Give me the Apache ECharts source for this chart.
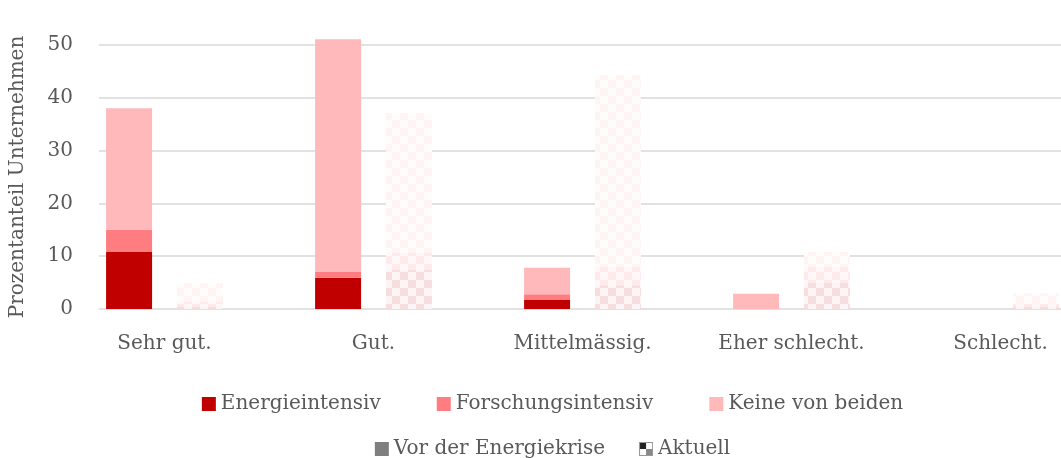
<!DOCTYPE html>
<html>
<head>
    <meta charset="utf-8">
    <title>Unternehmen</title>
    <script src="https://cdn.jsdelivr.net/npm/echarts@6/dist/echarts.min.js"></script>
</head>
<style>
    *{ margin: 0; padding: 0; }
    body{ width: 1061px; height: 458px; overflow: hidden; }
    /* Grafik ist im Original rechts abgeschnitten */
    #chart{ width: 1105px; height: 458px; }
</style>
<body>
<div id="chart"></div>
<script>
    // Daten
    let categories = ['Sehr gut.', 'Gut.', 'Mittelmässig.', 'Eher schlecht.', 'Schlecht.'];
    let vorEnergie = [10.8, 5.9, 1.7, 0, 0];
    let vorForschung = [4.2, 1.1, 1.1, 0, 0];
    let vorKeine = [23.0, 44.1, 5.0, 2.9, 0];
    let aktEnergie = [0.5, 7.4, 4.5, 5.0, 0.5];
    let aktForschung = [0.9, 3.2, 3.5, 3.0, 0.5];
    let aktKeine = [3.5, 26.5, 36.3, 2.8, 2.0];
    let yTicks = [0, 10, 20, 30, 40, 50];

    let font = 'DejaVu Serif';
    let grey = '#595959';
    let cRed = '#C00000', cPink = '#FF7C80', cLight = '#FFB9BB';

    // Schachbrett-Muster fuer "Aktuell"
    function checker(rgb, a1, a2, cell) {
        let c = document.createElement('canvas');
        c.width = cell * 2; c.height = cell * 2;
        let ctx = c.getContext('2d');
        ctx.fillStyle = '#fff';
        ctx.fillRect(0, 0, c.width, c.height);
        ctx.fillStyle = 'rgba(' + rgb + ',' + a1 + ')';
        ctx.fillRect(0, 0, cell, cell);
        ctx.fillRect(cell, cell, cell, cell);
        ctx.fillStyle = 'rgba(' + rgb + ',' + a2 + ')';
        ctx.fillRect(cell, 0, cell, cell);
        ctx.fillRect(0, cell, cell, cell);
        return {image: c, repeat: 'repeat'};
    }
    let patEnergie = checker('192,0,0', 0.13, 0.04, 8);
    let patForschung = checker('255,124,128', 0.16, 0.05, 8);
    let patKeine = checker('255,185,187', 0.16, 0.04, 8);

    let ic = document.createElement('canvas');
    ic.width = 14; ic.height = 14;
    let ictx = ic.getContext('2d');
    ictx.fillStyle = '#fff'; ictx.fillRect(0, 0, 14, 14);
    ictx.fillStyle = '#222'; ictx.fillRect(1, 1, 6, 6);
    ictx.fillStyle = '#888'; ictx.fillRect(7, 7, 6, 6);
    ictx.strokeStyle = '#999'; ictx.lineWidth = 1; ictx.strokeRect(0.5, 0.5, 13, 13);
    let aktIcon = 'image://' + ic.toDataURL();

    function bar(name, data, stack, color) {
        return {
            name: name,
            type: 'bar',
            stack: stack,
            data: data,
            barWidth: 46,
            barGap: '54%',
            clip: false,
            itemStyle: {color: color},
            emphasis: {disabled: true}
        };
    }

    let chart = echarts.init(document.getElementById('chart'));
    let option = {
        backgroundColor: '#fff',
        animation: false,
        textStyle: {fontFamily: font},
        grid: [
            {left: 60, right: 0, top: 45, bottom: 149},
            {left: 93, right: 0, top: 45, bottom: 149}
        ],
        xAxis: [
            {
                type: 'category', gridIndex: 0, data: categories,
                axisLine: {show: false}, axisTick: {show: false},
                axisLabel: {color: grey, fontSize: 20, fontFamily: font, margin: 25}
            },
            {type: 'category', gridIndex: 1, data: [''], show: false}
        ],
        yAxis: [
            {type: 'value', gridIndex: 0, min: 0, max: 50, show: false, splitLine: {show: false}},
            {
                type: 'value', gridIndex: 1, min: yTicks[0], max: yTicks[yTicks.length - 1], interval: 10,
                name: 'Prozentanteil Unternehmen', nameLocation: 'middle', nameGap: 71,
                nameTextStyle: {color: grey, fontSize: 20, fontFamily: font},
                axisLine: {show: false}, axisTick: {show: false},
                axisLabel: {color: grey, fontSize: 20, fontFamily: font, margin: 26},
                splitLine: {lineStyle: {color: '#d9d9d9', width: 1.5}}
            }
        ],
        legend: [
            {
                top: 389, left: 'center',
                itemWidth: 14, itemHeight: 14, itemGap: 56,
                icon: 'rect',
                textStyle: {color: grey, fontSize: 20, fontFamily: font},
                data: ['Energieintensiv', 'Forschungsintensiv', 'Keine von beiden']
            },
            {
                top: 434, left: 'center',
                itemWidth: 14, itemHeight: 14, itemGap: 34,
                textStyle: {color: grey, fontSize: 20, fontFamily: font},
                data: [
                    {name: 'Vor der Energiekrise', icon: 'rect'},
                    {name: 'Aktuell', icon: aktIcon}
                ]
            }
        ],
        series: [
            bar('Energieintensiv', vorEnergie, 'vor', cRed),
            bar('Forschungsintensiv', vorForschung, 'vor', cPink),
            bar('Keine von beiden', vorKeine, 'vor', cLight),
            bar('Energieintensiv', aktEnergie, 'akt', patEnergie),
            bar('Forschungsintensiv', aktForschung, 'akt', patForschung),
            bar('Keine von beiden', aktKeine, 'akt', patKeine),
            {name: 'Vor der Energiekrise', type: 'bar', xAxisIndex: 1, yAxisIndex: 1, data: [], itemStyle: {color: '#7f7f7f'}},
            {name: 'Aktuell', type: 'bar', xAxisIndex: 1, yAxisIndex: 1, data: [], itemStyle: {color: '#bbb'}}
        ]
    };
    chart.setOption(option);
</script>
</body>
</html>
